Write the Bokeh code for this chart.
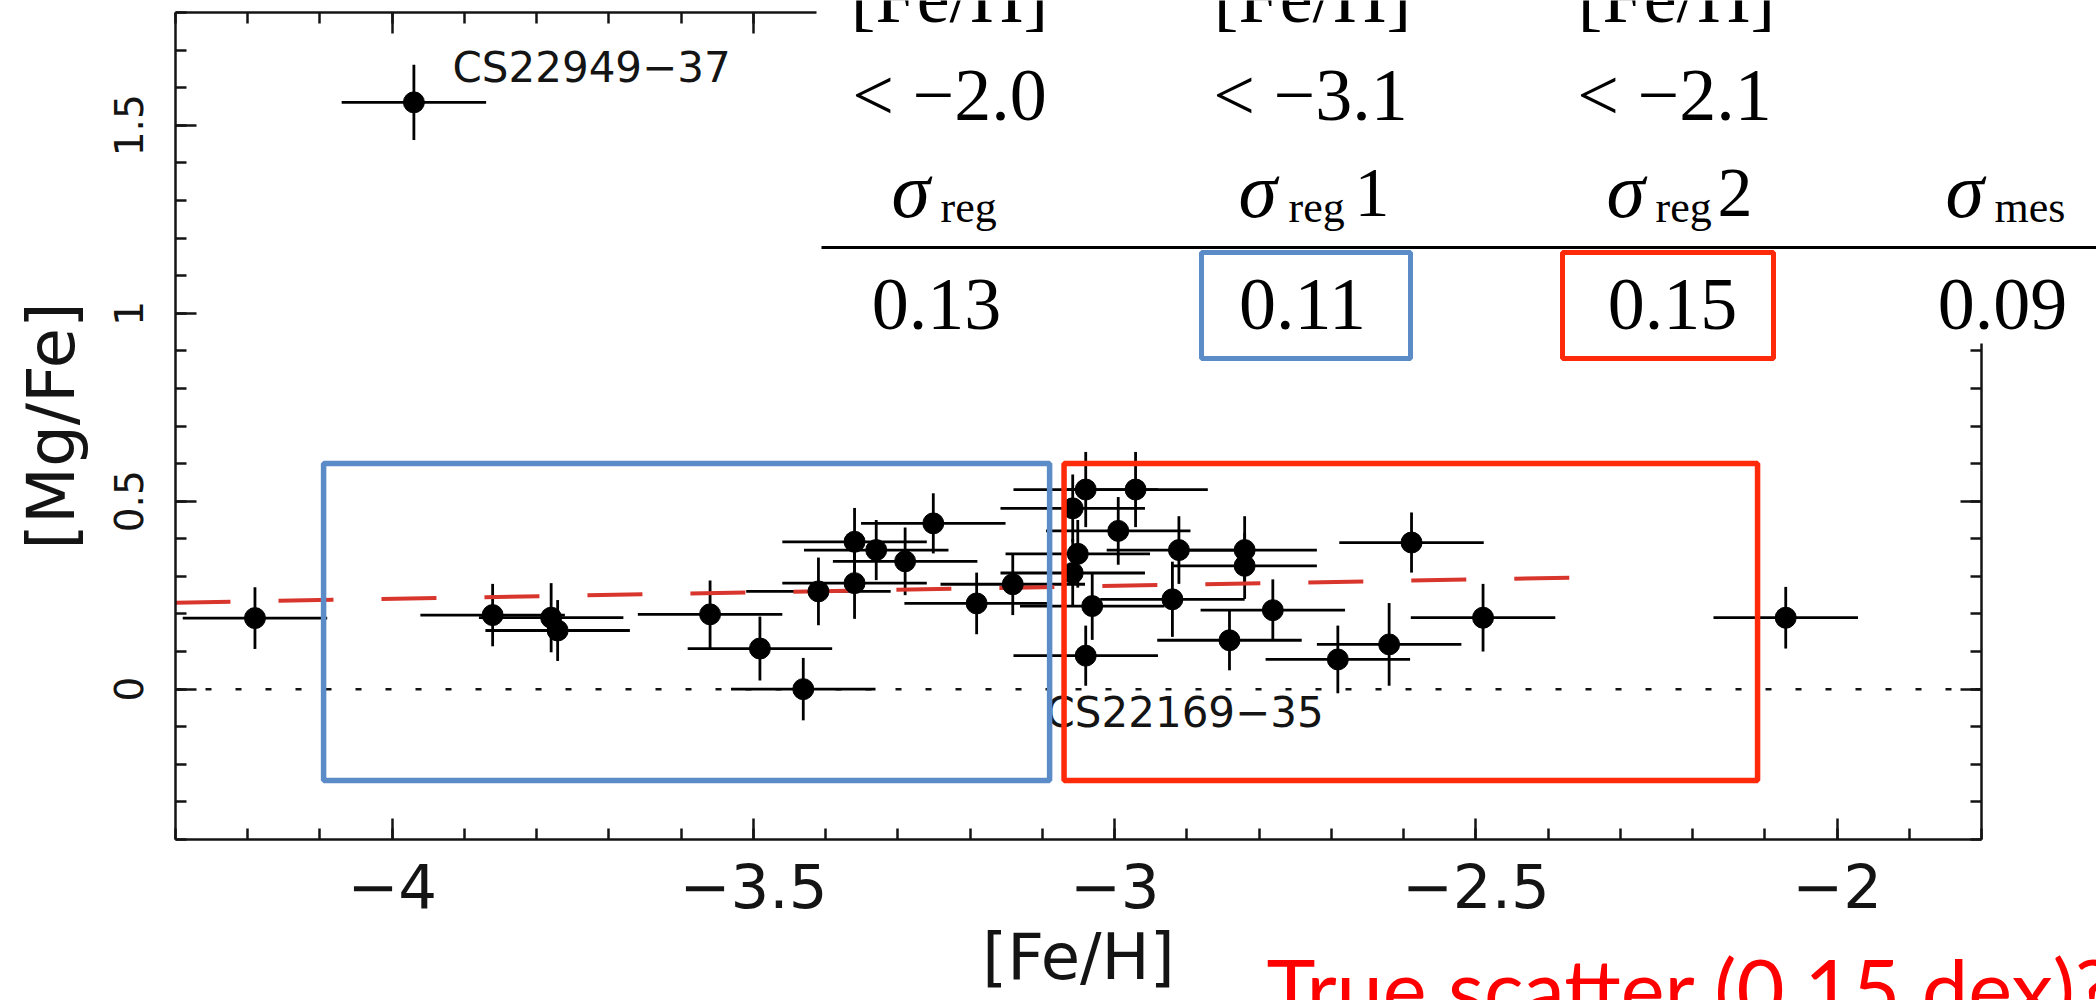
import numpy as np
from bokeh.plotting import figure
from bokeh.models import Range1d, LinearAxis, FixedTicker
from bokeh.core.properties import value
from bokeh.embed import file_html
from bokeh.resources import INLINE

# ---------------- data ----------------
fe_h = [-3.970, -4.190, -3.861, -3.780, -3.771, -3.560, -3.491, -3.431, -3.410,
        -3.360, -3.360, -3.330, -3.290, -3.251, -3.191, -3.141, -3.040, -3.058,
        -3.051, -3.058, -3.031, -3.040, -2.995, -2.971, -2.911, -2.820, -2.820,
        -2.920, -2.781, -2.841, -2.691, -2.620, -2.589, -2.490, -2.071]
mg_fe = [1.561, 0.189, 0.197, 0.190, 0.156, 0.199, 0.108, 0.000, 0.260,
         0.282, 0.392, 0.370, 0.340, 0.441, 0.228, 0.279, 0.531, 0.481,
         0.360, 0.309, 0.221, 0.089, 0.421, 0.531, 0.370, 0.370, 0.328,
         0.239, 0.210, 0.130, 0.079, 0.119, 0.390, 0.190, 0.190]
fe_h_err = [0.10] * 35
mg_fe_err = [0.10, 0.082, 0.083, 0.092, 0.081, 0.090, 0.085, 0.083, 0.090,
             0.095, 0.090, 0.080, 0.090, 0.080, 0.082, 0.082, 0.100, 0.090,
             0.090, 0.090, 0.090, 0.080, 0.090, 0.100, 0.090, 0.090, 0.088,
             0.100, 0.082, 0.080, 0.090, 0.110, 0.080, 0.090, 0.082]

fit_fe_h = [-4.30, -2.35]
fit_mg_fe = [0.230, 0.297]

star_names = ["CS22949\u221237", "CS22169\u221235"]

x_tick_values = [-4.0, -3.5, -3.0, -2.5, -2.0]
x_tick_labels = ["\u22124", "\u22123.5", "\u22123", "\u22122.5", "\u22122"]
y_tick_values = [0.0, 0.5, 1.0, 1.5]
y_tick_labels = ["0", "0.5", "1", "1.5"]

table_header = ["[Fe/H]", "[Fe/H]", "[Fe/H]"]
table_limits = ["< \u22122.0", "< \u22123.1", "< \u22122.1"]
table_sigma_sub = ["reg", "reg", "reg", "mes"]
table_sigma_suffix = ["", "1", "2", ""]
table_values = ["0.13", "0.11", "0.15", "0.09"]

caption = "True scatter (0.15 dex)?"

# ---------------- layout helpers ----------------
W, H = 2096, 1000
FL, FR, FT, FB = 175, 1981, 12, 839          # plot box in page pixels
XL, XR, YB, YT = -4.3, -1.8, -0.4, 1.8        # plot box in data units
BASE = 0.35                                   # baseline compensation (em)


def px_x(X):
    return XL + (X - FL) / (FR - FL) * (XR - XL)


def px_y(Y):
    return YT - (Y - FT) / (FB - FT) * (YT - YB)


def base_y(Y, fs):
    return px_y(Y - BASE * fs)


p = figure(width=W, height=H,
           x_range=Range1d(px_x(0), px_x(W)), y_range=Range1d(px_y(H), px_y(0)),
           output_backend="svg", toolbar_location=None,
           x_axis_location=None, y_axis_location=None,
           min_border=0, min_border_left=0, min_border_right=0,
           min_border_top=0, min_border_bottom=0,
           outline_line_color=None, background_fill_color="white",
           border_fill_color="white")
p.grid.visible = False

AX = "#141414"
x_minor = [round(v, 2) for v in np.arange(-4.3, -1.79, 0.1)]
y_minor = [round(v, 2) for v in np.arange(-0.4, 1.81, 0.1)]


def style(ax):
    ax.axis_line_width = 2.5
    ax.axis_line_color = AX
    ax.major_tick_in = 21
    ax.major_tick_out = 0
    ax.minor_tick_in = 11
    ax.minor_tick_out = 0
    ax.major_tick_line_width = 2.5
    ax.minor_tick_line_width = 2.5
    ax.major_tick_line_color = AX
    ax.minor_tick_line_color = AX


xb = LinearAxis(ticker=FixedTicker(ticks=x_tick_values, minor_ticks=x_minor),
                major_label_overrides=dict(zip(x_tick_values, x_tick_labels)),
                axis_label="[Fe/H]", fixed_location=YB, bounds=(XL, XR))
style(xb)
xb.major_label_text_font = "DejaVu Sans"
xb.major_label_text_font_size = "61px"
xb.major_label_text_color = AX
xb.major_label_standoff = 23
xb.axis_label_text_font = "DejaVu Sans"
xb.axis_label_text_font_size = "64px"
xb.axis_label_text_font_style = "normal"
xb.axis_label_text_color = AX
xb.axis_label_standoff = 9
p.add_layout(xb, "below")

yl = LinearAxis(ticker=FixedTicker(ticks=y_tick_values, minor_ticks=y_minor),
                major_label_overrides=dict(zip(y_tick_values, y_tick_labels)),
                axis_label="[Mg/Fe]", fixed_location=XL, bounds=(YB, YT))
style(yl)
yl.major_label_orientation = "vertical"
yl.major_label_text_font = "DejaVu Sans"
yl.major_label_text_font_size = "39px"
yl.major_label_text_color = AX
yl.major_label_standoff = 32
yl.axis_label_text_font = "DejaVu Sans"
yl.axis_label_text_font_size = "66px"
yl.axis_label_text_font_style = "normal"
yl.axis_label_text_color = AX
yl.axis_label_standoff = 22
p.add_layout(yl, "left")

# top and right frame lines: partly hidden behind the pasted table
top_end = px_x(816)
right_end = px_y(343)
xt = LinearAxis(ticker=FixedTicker(ticks=[t for t in x_tick_values if t <= top_end],
                                   minor_ticks=[t for t in x_minor if t <= top_end]),
                fixed_location=YT, bounds=(XL, top_end),
                major_label_text_color=None, major_label_text_font_size="10px")
style(xt)
p.add_layout(xt, "above")

yr = LinearAxis(ticker=FixedTicker(ticks=[t for t in y_tick_values if t <= right_end],
                                   minor_ticks=[t for t in y_minor if t <= right_end]),
                fixed_location=XR, bounds=(YB, right_end),
                major_label_text_color=None, major_label_text_font_size="10px")
style(yr)
p.add_layout(yr, "right")

# zero reference line across the plot box
p.segment(x0=[XL], y0=[0], x1=[XR], y1=[0], line_color=AX, line_width=2.5,
          line_dash="6 24")

# error bars and points
fe = np.array(fe_h)
mg = np.array(mg_fe)
ex = np.array(fe_h_err)
ey = np.array(mg_fe_err)
p.segment(fe - ex, mg, fe + ex, mg, line_color="black", line_width=2.8)
p.segment(fe, mg - ey, fe, mg + ey, line_color="black", line_width=2.8)
p.line(fit_fe_h, fit_mg_fe, line_color="#d8352c", line_width=4, line_dash="55 48")
p.scatter(fe_h, mg_fe, size=21, color="black")

# star labels
p.text(x=[px_x(452), px_x(1045)], y=[base_y(82, 42), base_y(727, 42)], text=star_names,
       text_font=value("DejaVu Sans"), text_font_size="42px", text_color=AX,
       text_align="left", text_baseline="alphabetic")

# highlight boxes
BLUE = "#5b8cc8"
RED = "#ff2a0a"
p.quad(left=[-4.095], right=[-3.09], bottom=[-0.243], top=[0.60],
       fill_color=None, line_color=BLUE, line_width=5.5)
p.quad(left=[-3.07], right=[-2.11], bottom=[-0.243], top=[0.60],
       fill_color=None, line_color=RED, line_width=5.5)

# table pasted over the upper right corner
SERIF = value("Liberation Serif")


def ttext(xs, ys, texts, size, align="center", style="normal"):
    p.text(x=xs, y=ys, text=texts, text_font=SERIF, text_font_size=size,
           text_font_style=style, text_align=align, text_baseline="alphabetic",
           text_color="black")


ttext([px_x(X) for X in [949, 1312, 1676]], [base_y(22, 74)] * 3, table_header, "74px")
ttext([px_x(X) for X in [949, 1310, 1674]], [base_y(120, 74)] * 3, table_limits, "74px")
sig_x = [891, 1238, 1606, 1945]
sub_x = [940, 1288, 1655, 1994]
suf_x = [None, 1354, 1717, None]
ttext([px_x(X) for X in sig_x], [base_y(217, 78)] * 4, ["\u03c3"] * 4, "78px",
      align="left", style="italic")
ttext([px_x(X) for X in sub_x], [base_y(222, 44)] * 4, table_sigma_sub, "44px",
      align="left")
ttext([px_x(suf_x[i]) for i in range(4) if table_sigma_suffix[i]],
      [base_y(217, 70)] * 2, [s for s in table_sigma_suffix if s], "70px", align="left")
p.segment(x0=[px_x(821)], y0=[px_y(247)], x1=[px_x(W)], y1=[px_y(247)],
          line_color="black", line_width=3)
ttext([px_x(X) for X in [936, 1302, 1672, 2002]], [base_y(330, 74)] * 4,
      table_values, "74px")
p.quad(left=[px_x(1201)], right=[px_x(1410)], bottom=[px_y(358)], top=[px_y(252)],
       fill_color=None, line_color=BLUE, line_width=5)
p.quad(left=[px_x(1562)], right=[px_x(1773)], bottom=[px_y(358)], top=[px_y(252)],
       fill_color=None, line_color=RED, line_width=5)

# slide caption
p.text(x=[px_x(1266)], y=[base_y(1017, 83)], text=[caption], text_font=value("Lato"),
       text_font_size="83px", text_align="left", text_baseline="alphabetic",
       text_color="#ff0000")

open("out.html", "w").write(file_html(p, INLINE))
